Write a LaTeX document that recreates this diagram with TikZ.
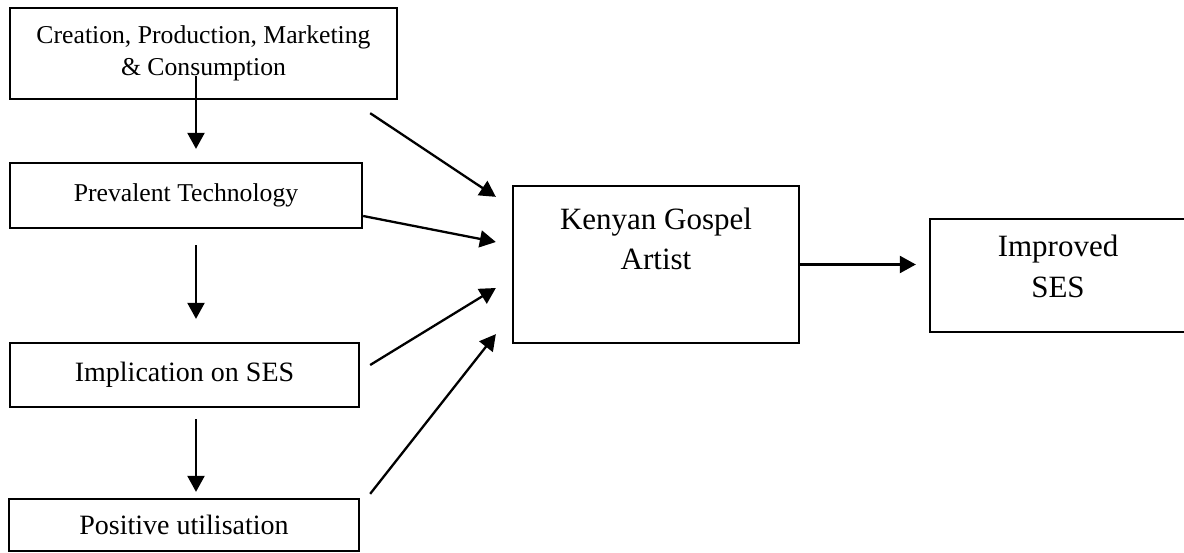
\documentclass[tikz,border=0pt]{standalone}
\usepackage{fontspec}
\setmainfont{Liberation Serif}
\usetikzlibrary{arrows.meta}
\begin{document}
\begin{tikzpicture}[x=1pt,y=-1pt,
  box/.style={draw,line width=2.3pt,inner sep=0pt,align=center},
  arr/.style={line width=2.3pt,-{Triangle[length=16pt,width=17pt]}},
  smallfont/.style={font=\fontsize{25.7}{32}\selectfont},
  midfont/.style={font=\fontsize{28}{34}\selectfont},
  bigfont/.style={font=\fontsize{31}{40.5}\selectfont}]
  \useasboundingbox (0,0) rectangle (1184,552);
  % left column
  \node [box,smallfont,minimum width=387,minimum height=91] (create) at (203.5,53.5)
    {Creation, Production, Marketing\\\& Consumption};
  \node [box,smallfont,minimum width=352,minimum height=65] (tech) at (186,195.5) {Prevalent Technology};
  \node [box,midfont,minimum width=349,minimum height=64] (impl) at (184.5,375) {Implication on SES};
  \node [box,midfont,minimum width=350,minimum height=52] (util) at (184,525) {Positive utilisation};
  % right side
  \node [box,minimum width=286,minimum height=157] (artist) at (656,264.5) {};
  \node [bigfont,align=center] (artisttext) at (656,239) {Kenyan Gospel\\Artist};
  \node [box,minimum width=258,minimum height=113] (ses) at (1059,275.5) {};
  \node [bigfont,align=center] (sestext) at (1058,266.5) {Improved\\SES};
  % down the column
  \draw [arr,shorten >=13pt] ([xshift=-7.5pt,yshift=24pt]create.south) -- ([xshift=10pt]tech.north);
  \draw [arr,shorten <=16pt,shorten >=23pt] ([xshift=10pt]tech.south) -- ([xshift=11.5pt]impl.north);
  \draw [arr,shorten <=11pt,shorten >=6pt] ([xshift=11.5pt]impl.south) -- ([xshift=12pt]util.north);
  % into the artist
  \draw [arr] ([xshift=-28pt,yshift=-13pt]create.south east) -- ([xshift=-16pt,yshift=-12pt]artist.north west);
  \draw [arr] ([yshift=-20.5pt]tech.east) -- ([xshift=-16pt,yshift=22.5pt]artist.west);
  \draw [arr] ([xshift=10pt,yshift=10pt]impl.east) -- ([xshift=-16pt,yshift=-23.5pt]artist.west);
  \draw [arr] ([xshift=10pt,yshift=4pt]util.north east) -- ([xshift=-16pt,yshift=10pt]artist.south west);
  \draw [arr,shorten >=13pt] (artist.east) -- (artist.east -| ses.west);
\end{tikzpicture}
\end{document}
